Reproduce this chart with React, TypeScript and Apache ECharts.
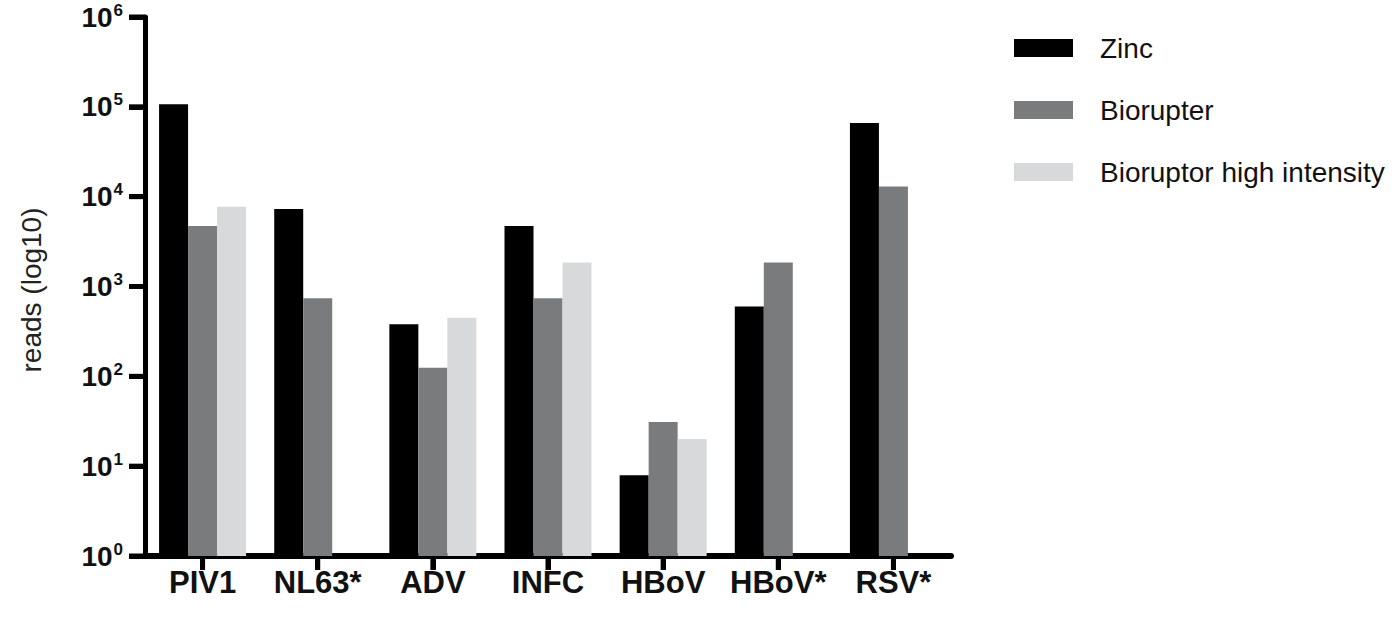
import React, { useEffect, useRef } from "react";
import * as echarts from "echarts";

const categories = ["PIV1", "NL63*", "ADV", "INFC", "HBoV", "HBoV*", "RSV*"];
const seriesNames = ["Zinc", "Biorupter", "Bioruptor high intensity"];
const zincValues = [107000, 7300, 380, 4700, 7.9, 600, 66000];
const biorupterValues = [4700, 740, 125, 740, 31, 1850, 13000];
const highIntensityValues = [7700, null, 450, 1850, 20, null, null];
const yTickValues = [1, 10, 100, 1000, 10000, 100000, 1000000];
const yAxisTitle = "reads (log10)";
const seriesColors = ["#000000", "#797b7d", "#d7d9db"];

const FONT = "'Liberation Sans', Arial, Helvetica, sans-serif";
const GRID_LEFT = 145;
const Y_TICK_LEN = 16;
const X_TICK_LEN = 14;

export default function App() {
  const ref = useRef<HTMLDivElement>(null);
  useEffect(() => {
    if (!ref.current) return;
    const chart = echarts.init(ref.current, undefined, { renderer: "svg" });
    const values = [zincValues, biorupterValues, highIntensityValues];
    const nameText = {
      type: "text",
      id: "yname",
      x: 31,
      y: 290,
      rotation: Math.PI / 2,
      silent: true,
      style: {
        text: yAxisTitle,
        font: `28px ${FONT}`,
        fill: "#222",
        textAlign: "center",
        textVerticalAlign: "middle",
      },
    };
    try {
      chart.setOption({
        animation: false,
        grid: { left: GRID_LEFT, top: 17, width: 806, height: 539 },
        graphic: [nameText],
        legend: {
          orient: "vertical",
          left: 1009,
          top: 28,
          itemWidth: 59,
          itemHeight: 18,
          itemGap: 32,
          icon: "rect",
          data: seriesNames,
          textStyle: {
            fontFamily: FONT,
            fontSize: 28,
            color: "#111",
            lineHeight: 30,
            padding: [0, 0, 0, 22],
          },
        },
        xAxis: {
          type: "category",
          data: categories,
          axisLine: { show: true, lineStyle: { color: "#000", width: 6 } },
          axisTick: { show: true, alignWithLabel: true, length: X_TICK_LEN, lineStyle: { color: "#000", width: 5 } },
          axisLabel: {
            interval: 0,
            fontFamily: FONT,
            fontSize: 31,
            fontWeight: "bold",
            color: "#111",
            margin: 11,
          },
        },
        yAxis: {
          type: "log",
          min: 1,
          max: 1000000,
          splitLine: { show: false },
          axisLine: { show: true, lineStyle: { color: "#000", width: 5 } },
          axisTick: { show: true, length: Y_TICK_LEN, lineStyle: { color: "#000", width: 5 } },
          axisLabel: {
            margin: 22,
            formatter: (v: number) => `{b|10}{s|${Math.round(Math.log10(v))}}`,
            rich: {
              b: { fontFamily: FONT, fontSize: 28, fontWeight: "bold", color: "#111" },
              s: {
                fontFamily: FONT,
                fontSize: 17,
                fontWeight: "bold",
                color: "#111",
                padding: [0, 0, 14, 1],
              },
            },
          },
        },
        series: seriesNames.map((name, i) => ({
          name,
          type: "bar",
          data: values[i],
          barWidth: 29,
          barGap: "0%",
          itemStyle: { color: seriesColors[i] },
        })),
      });
    } catch (e) {
      console.error(e);
    }

    // Tick marks placed through the library's own axis scales
    try {
      const baseY = chart.convertToPixel({ yAxisIndex: 0 }, 1) as number;
      const tickStyle = { stroke: "#000", lineWidth: 5 };
      const yTicks = yTickValues.map((v) => {
        const y = chart.convertToPixel({ yAxisIndex: 0 }, v) as number;
        return {
          type: "line",
          silent: true,
          z: 10,
          shape: { x1: GRID_LEFT - Y_TICK_LEN, y1: y, x2: GRID_LEFT, y2: y },
          style: tickStyle,
        };
      });
      const xTicks = categories.map((c) => {
        const x = chart.convertToPixel({ xAxisIndex: 0 }, c) as number;
        return {
          type: "line",
          silent: true,
          z: 10,
          shape: { x1: x, y1: baseY, x2: x, y2: baseY + X_TICK_LEN },
          style: tickStyle,
        };
      });
      chart.setOption({ graphic: [nameText, ...yTicks, ...xTicks] });
    } catch (e) {
      console.error(e);
    }

    return () => chart.dispose();
  }, []);
  return (
    <div
      ref={ref}
      style={{ position: "absolute", left: 0, top: 0, width: 1395, height: 621 }}
    />
  );
}
